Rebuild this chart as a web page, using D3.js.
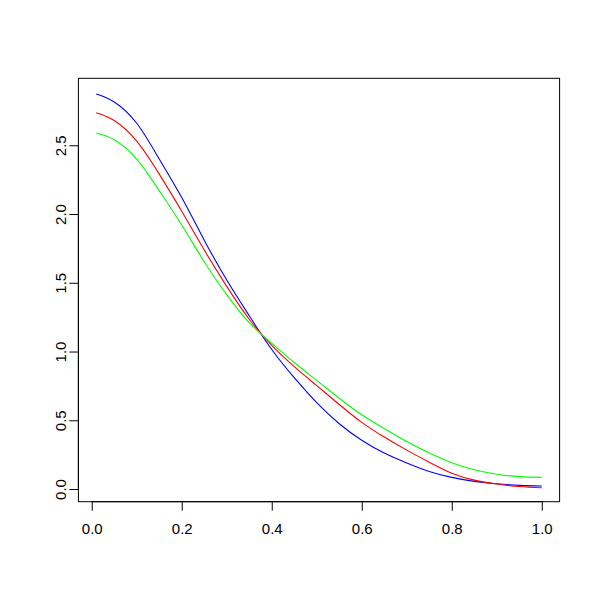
<!DOCTYPE html>
<html>
<head>
<meta charset="utf-8">
<script src="https://cdn.jsdelivr.net/npm/d3@7"></script>
<style>
  html, body { margin: 0; padding: 0; background: #fff; }
  svg { display: block; }
  text { font-family: "Liberation Sans", Arial, Helvetica, sans-serif; }
</style>
</head>
<body>
<svg id="chart" width="600" height="600"></svg>
<script>
// x positions of the curves
const xValues = [0.01, 0.05, 0.1, 0.15, 0.2, 0.25, 0.3, 0.35, 0.4, 0.45, 0.5,
                 0.55, 0.6, 0.65, 0.7, 0.75, 0.8, 0.85, 0.9, 0.95, 1.0];
// series values
const blueValues  = [2.873, 2.815, 2.66, 2.40, 2.12, 1.81, 1.52, 1.26, 1.015, 0.81, 0.628,
                     0.475, 0.355, 0.262, 0.19, 0.128, 0.085, 0.056, 0.038, 0.027, 0.022];
const redValues   = [2.737, 2.68, 2.53, 2.29, 2.02, 1.738, 1.474, 1.235, 1.045, 0.89, 0.752,
                     0.615, 0.485, 0.378, 0.283, 0.195, 0.115, 0.065, 0.037, 0.018, 0.009];
const greenValues = [2.589, 2.54, 2.40, 2.17, 1.92, 1.653, 1.414, 1.21, 1.06, 0.92, 0.79,
                     0.66, 0.54, 0.44, 0.345, 0.262, 0.192, 0.14, 0.108, 0.09, 0.085];
const xTicks = [0, 0.2, 0.4, 0.6, 0.8, 1.0];
const yTicks = [0, 0.5, 1.0, 1.5, 2.0, 2.5];

const seriesList = [
  { name: "blue",  values: blueValues,  color: "#0000ff" },
  { name: "red",   values: redValues,   color: "#ff0000" },
  { name: "green", values: greenValues, color: "#00ff00" }
];

const svg = d3.select("#chart");
const plotLeft = 78.4, plotRight = 559.6, plotTop = 78.3, plotBottom = 501.7;

// R-style 4% padding; y range taken from first plotted series
const xExt = d3.extent(xValues);
const xPad = (xExt[1] - xExt[0]) * 0.04;
const yExt = d3.extent(blueValues);
const yPad = (yExt[1] - yExt[0]) * 0.04;

const x = d3.scaleLinear().domain([xExt[0] - xPad, xExt[1] + xPad]).range([plotLeft, plotRight]);
const y = d3.scaleLinear().domain([yExt[0] - yPad, yExt[1] + yPad]).range([plotBottom, plotTop]);

// curves
const line = d3.line().x((d, i) => x(xValues[i])).y(d => y(d)).curve(d3.curveNatural);
seriesList.forEach(s => {
  svg.append("path")
    .datum(s.values)
    .attr("d", line)
    .attr("fill", "none")
    .attr("stroke", s.color)
    .attr("stroke-width", 1.1);
});

// axes
const xAxis = d3.axisBottom(x).tickValues(xTicks).tickSize(9).tickPadding(13)
  .tickFormat(d3.format(".1f"));
const gx = svg.append("g").attr("transform", `translate(0,${plotBottom})`).call(xAxis);
gx.select(".domain").attr("d", `M${x(xTicks[0])},0H${x(xTicks[xTicks.length-1])}`).attr("stroke", "#000");
gx.selectAll(".tick line").attr("stroke", "#000");
gx.selectAll(".tick text").attr("font-size", 15).attr("fill", "#000")
  .attr("font-family", "Liberation Sans, Arial, sans-serif");

const yAxis = d3.axisLeft(y).tickValues(yTicks).tickSize(9).tickFormat(d3.format(".1f"));
const gy = svg.append("g").attr("transform", `translate(${plotLeft},0)`).call(yAxis);
gy.select(".domain").attr("d", `M0,${y(yTicks[0])}V${y(yTicks[yTicks.length-1])}`).attr("stroke", "#000");
gy.selectAll(".tick line").attr("stroke", "#000");
gy.selectAll(".tick text")
  .attr("font-size", 15).attr("fill", "#000")
  .attr("font-family", "Liberation Sans, Arial, sans-serif")
  .attr("x", null).attr("dy", null)
  .attr("text-anchor", "middle")
  .attr("transform", "translate(-12,0) rotate(-90)");

// box
svg.append("rect")
  .attr("x", plotLeft).attr("y", plotTop)
  .attr("width", plotRight - plotLeft).attr("height", plotBottom - plotTop)
  .attr("fill", "none").attr("stroke", "#000").attr("stroke-width", 1);
</script>
</body>
</html>
